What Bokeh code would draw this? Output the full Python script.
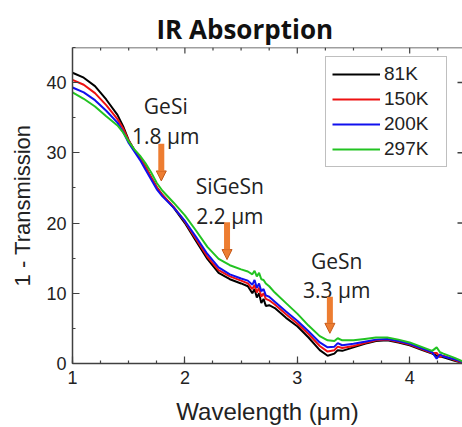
from bokeh.plotting import figure
from bokeh.models import (Range1d, Legend, LegendItem, Arrow, NormalHead, Span,
                          ColumnDataSource, SingleIntervalTicker)
from bokeh.core.properties import value
from bokeh.embed import file_html
from bokeh.resources import INLINE

# ---------------- data ----------------
wavelength = [1.0, 1.1, 1.2, 1.3, 1.4, 1.45, 1.5, 1.55, 1.6, 1.65, 1.7, 1.75, 1.8, 1.9, 2.0,
              2.1, 2.2, 2.3, 2.4, 2.5,
              2.56, 2.6, 2.62, 2.64, 2.66, 2.68, 2.7, 2.72, 2.75,
              2.8, 2.9, 3.0, 3.1, 3.2, 3.27, 3.33, 3.36, 3.4,
              3.5, 3.6, 3.7, 3.8, 3.9, 4.0, 4.1, 4.2,
              4.24, 4.27, 4.3, 4.4, 4.47]

abs_81K = [41.4, 40.7, 39.5, 37.6, 35.4, 33.8, 31.8, 30.4, 29.3, 28.0, 26.5, 25.1, 24.0, 22.2, 20.0,
           17.4, 14.9, 12.9, 12.0, 11.4,
           11.0, 10.0, 10.6, 9.4, 10.0, 8.6, 9.2, 8.2, 8.3,
           7.9, 6.5, 5.3, 3.7, 1.9, 1.1, 1.4, 1.9, 1.8,
           2.3, 2.8, 3.2, 3.3, 3.0, 2.6, 2.0, 1.4,
           1.1, 1.0, 0.9, 0.4, 0.1]

abs_150K = [40.4, 39.7, 38.5, 36.8, 34.8, 33.5, 31.7, 30.4, 29.3, 28.0, 26.5, 25.1, 24.0, 22.3, 20.2,
            17.7, 15.2, 13.3, 12.4, 11.8,
            11.4, 10.6, 11.2, 10.1, 10.8, 9.5, 10.0, 9.2, 9.0,
            8.4, 7.0, 5.7, 4.2, 2.5, 1.7, 1.9, 2.4, 2.2,
            2.5, 2.9, 3.3, 3.4, 3.1, 2.7, 2.1, 1.5,
            1.5, 0.9, 1.1, 0.5, 0.1]

abs_200K = [39.3, 38.6, 37.5, 36.0, 34.3, 33.0, 31.4, 30.2, 29.0, 27.6, 26.2, 24.8, 23.8, 22.2, 20.3,
            18.0, 15.6, 13.7, 12.7, 12.1,
            11.8, 11.2, 11.9, 10.8, 11.4, 10.3, 10.6, 9.7, 9.5,
            8.8, 7.4, 6.1, 4.6, 3.0, 2.3, 2.4, 2.9, 2.6,
            2.8, 3.1, 3.4, 3.5, 3.2, 2.8, 2.2, 1.6,
            0.7, 1.3, 1.0, 0.6, 0.2]

abs_297K = [38.6, 37.7, 36.6, 35.2, 33.9, 32.9, 31.6, 30.5, 29.6, 28.5, 27.2, 25.7, 24.6, 22.9, 21.1,
            18.9, 16.6, 14.9, 14.0, 13.4,
            13.1, 12.7, 13.2, 12.4, 12.9, 12.0, 11.9, 11.4, 11.0,
            10.1, 8.6, 7.1, 5.4, 3.9, 3.3, 3.2, 3.6, 3.3,
            3.3, 3.5, 3.7, 3.7, 3.4, 3.0, 2.4, 1.8,
            2.3, 1.6, 1.4, 0.8, 0.3]

series_labels = ["81K", "150K", "200K", "297K"]
series_colors = ["#000000", "#ee1111", "#1010ee", "#22c322"]

# annotations (band-edge markers)
note_names = ["GeSi", "SiGeSn", "GeSn"]
note_edges = ["1.8 \u03bcm", "2.2 \u03bcm", "3.3 \u03bcm"]
note_x = [1.83, 2.40, 3.35]
name_y = [36.7, 25.3, 14.65]
edge_y = [32.4, 21.05, 10.4]
arrow_x = [1.79, 2.375, 3.29]
arrow_top = [31.3, 20.1, 9.5]
arrow_tip = [26.0, 14.8, 4.3]

# frame ticks (top and right edges)
x_lo, x_hi = 1.0, 4.47
y_lo, y_hi = 0.0, 45.0
top_minor = [1.25, 1.5, 1.75, 2.25, 2.5, 2.75, 3.25, 3.5, 3.75, 4.25]
top_major = [2, 3, 4]
right_major = [10, 20, 30, 40]

# ---------------- figure ----------------
p = figure(width=462, height=427, output_backend="svg", toolbar_location=None,
           x_range=Range1d(x_lo, x_hi), y_range=Range1d(y_lo, y_hi))
p.min_border_left = 72
p.min_border_right = 0
p.min_border_top = 47
p.min_border_bottom = 64
p.outline_line_color = None
p.xgrid.visible = False
p.ygrid.visible = False
p.background_fill_color = "white"
p.border_fill_color = "white"

p.title.text = "IR Absorption"
p.title.align = "left"
p.title.offset = 84
p.title.standoff = 2
p.title.text_font = "Open Sans"
p.title.text_font_size = "26px"
p.title.text_font_style = "bold"
p.title.text_color = "#111111"

axis_color = "#404040"
tick_font = "Liberation Sans"

xax = p.xaxis[0]
xax.ticker = SingleIntervalTicker(interval=1, num_minor_ticks=4)
yax = p.yaxis[0]
yax.ticker = SingleIntervalTicker(interval=10, num_minor_ticks=2)
for ax in (xax, yax):
    ax.axis_line_color = axis_color
    ax.axis_line_width = 1.5
    ax.major_tick_line_color = axis_color
    ax.minor_tick_line_color = axis_color
    ax.major_tick_line_width = 1.2
    ax.minor_tick_line_width = 1.2
    ax.major_tick_in = 7
    ax.major_tick_out = 0
    ax.minor_tick_in = 3
    ax.minor_tick_out = 0
    ax.major_label_text_font = tick_font
    ax.major_label_text_font_size = "18px"
    ax.major_label_text_color = "#222222"
    ax.axis_label_text_font = tick_font
    ax.axis_label_text_font_style = "normal"
    ax.axis_label_text_color = "#222222"
xax.axis_label = "Wavelength (\u03bcm)"
yax.axis_label = "1 - Transmission"
xax.axis_label_text_font_size = "24px"
yax.axis_label_text_font_size = "22px"
xax.major_label_standoff = 7
xax.axis_label_standoff = 11
yax.major_label_standoff = 6
yax.axis_label_standoff = 8

# top frame line and inward ticks on top / right edges
p.add_layout(Span(location=y_hi, dimension="width", line_color=axis_color, line_width=1.5))
px_per_y = (y_hi - y_lo) / 316.0
px_per_x = (x_hi - x_lo) / 390.0
p.segment(x0=top_minor, x1=top_minor, y0=[y_hi] * len(top_minor),
          y1=[y_hi - 3 * px_per_y] * len(top_minor), line_color=axis_color, line_width=1.2)
p.segment(x0=top_major, x1=top_major, y0=[y_hi] * len(top_major),
          y1=[y_hi - 6 * px_per_y] * len(top_major), line_color=axis_color, line_width=1.2)
p.segment(x0=[x_hi] * len(right_major), x1=[x_hi - 5 * px_per_x] * len(right_major),
          y0=right_major, y1=right_major, line_color=axis_color, line_width=1.5)

# curves
renderers = []
for ys, col in zip([abs_81K, abs_150K, abs_200K, abs_297K], series_colors):
    r = p.line(wavelength, ys, line_color=col, line_width=2)
    renderers.append(r)

legend = Legend(items=[LegendItem(label=l, renderers=[r]) for l, r in zip(series_labels, renderers)],
                location=(253, 196))
legend.border_line_color = "#808080"
legend.border_line_width = 1
legend.background_fill_alpha = 1
legend.label_text_font = tick_font
legend.label_text_font_size = "19px"
legend.label_text_color = "#222222"
legend.glyph_width = 48
legend.glyph_height = 20
legend.label_height = 20
legend.label_standoff = 4
legend.label_width = 56
legend.padding = 6
legend.spacing = 3
legend.margin = 0
p.add_layout(legend)

# annotations
note_src = ColumnDataSource(dict(x=note_x + note_x, y=name_y + edge_y, t=note_names + note_edges))
p.text(x="x", y="y", text="t", source=note_src, text_font=value("Open Sans"),
       text_font_size="21px", text_align="center", text_baseline="alphabetic",
       text_color="#222222")

arrow_color = "#ED7D31"
for ax_, y0, y1 in zip(arrow_x, arrow_top, arrow_tip):
    p.add_layout(Arrow(end=NormalHead(size=10, fill_color=arrow_color, line_color="#c55a1a", line_width=1),
                       x_start=ax_, y_start=y0, x_end=ax_, y_end=y1,
                       line_color=arrow_color, line_width=6))

open("out.html", "w").write(file_html(p, INLINE))
